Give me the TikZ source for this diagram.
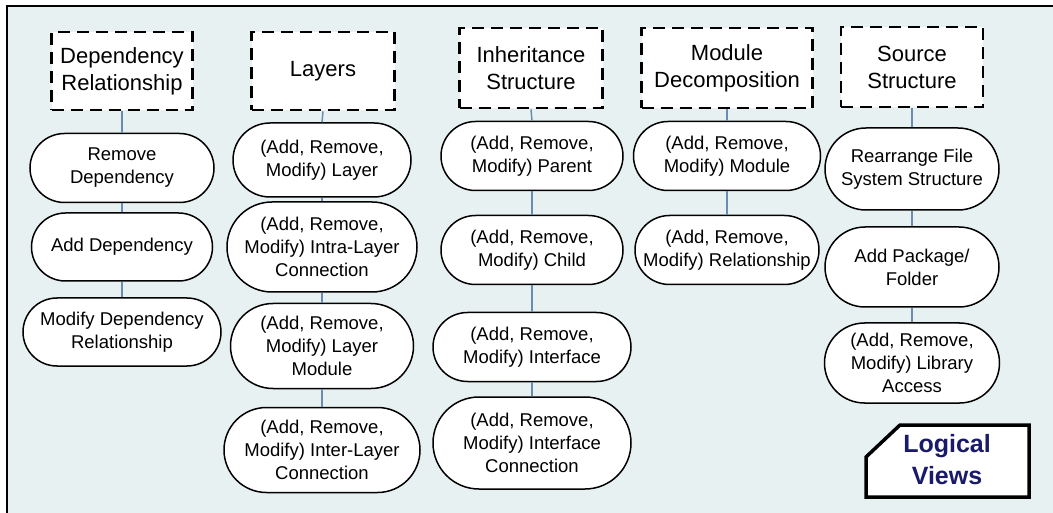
\documentclass[tikz,border=0pt]{standalone}
\usepackage{fontspec}
\setmainfont{Liberation Sans}
\usetikzlibrary{shapes.misc}
\definecolor{bgc}{HTML}{E8F1F1}
\definecolor{linkc}{HTML}{6A8CAE}
\definecolor{navy}{HTML}{1A1A6A}
\begin{document}
\begin{tikzpicture}[x=1pt,y=-1pt,
  hdr/.style={draw=black, fill=white, line width=2.6pt, dash pattern=on 12pt off 7pt,
    align=center, inner sep=0pt, font=\fontsize{22}{27}\selectfont},
  op/.style 2 args={rounded rectangle, draw=black, fill=white, line width=1.5pt, align=center, inner sep=0pt,
    minimum width=#1, minimum height=#2,
    font=\fontsize{18.5}{23}\selectfont},
  link/.style={draw=linkc, line width=1.5pt}]
\useasboundingbox (0,0) rectangle (1053,513);
\fill[white] (0,0) rectangle (1053,513);
\fill[bgc] (7,6) rectangle (1053,513);
\draw[line width=2pt] (7,513) -- (7,6) -- (1053,6);

% column 1
\node[hdr, minimum width=141pt, minimum height=78pt] (h1) at (122,71) {Dependency\\Relationship};
\node[op={184pt}{69pt}] (a1) at (122,168) {Remove\\Dependency};
\node[op={181pt}{68pt}] (a2) at (122,247) {Add Dependency};
\node[op={198pt}{68pt}] (a3) at (122,332) {Modify Dependency\\Relationship};

% column 2
\node[hdr, minimum width=143pt, minimum height=78pt] (h2) at (323,71) {Layers};
\node[op={178pt}{74pt}] (b1) at (322,160) {(Add, Remove,\\Modify) Layer};
\node[op={190pt}{90pt}] (b2) at (322,247) {(Add, Remove,\\Modify) Intra-Layer\\Connection};
\node[op={183pt}{85pt}] (b3) at (322,346) {(Add, Remove,\\Modify) Layer\\Module};
\node[op={196pt}{85pt}] (b4) at (322,450) {(Add, Remove,\\Modify) Inter-Layer\\Connection};

% column 3
\node[hdr, minimum width=143pt, minimum height=80pt] (h3) at (531,68) {Inheritance\\Structure};
\node[op={182pt}{69pt}] (c1) at (532,156) {(Add, Remove,\\Modify) Parent};
\node[op={182pt}{69pt}] (c2) at (532,250) {(Add, Remove,\\Modify) Child};
\node[op={198pt}{69pt}] (c3) at (532,347) {(Add, Remove,\\Modify) Interface};
\node[op={198pt}{92pt}] (c4) at (532,443) {(Add, Remove,\\Modify) Interface\\Connection};

% column 4
\node[hdr, minimum width=171pt, minimum height=80pt] (h4) at (727,68) {Module\\Decomposition};
\node[op={187pt}{69pt}] (d1) at (727,156) {(Add, Remove,\\Modify) Module};
\node[op={184pt}{69pt}] (d2) at (727,250) {(Add, Remove,\\Modify) Relationship};

% column 5
\node[hdr, minimum width=142pt, minimum height=80pt] (h5) at (912,67) {Source\\Structure};
\node[op={174pt}{82pt}] (e1) at (912,169) {Rearrange File\\System Structure};
\node[op={174pt}{80pt}] (e2) at (912,267) {Add Package/\\Folder};
\node[op={175pt}{80pt}] (e3) at (912,363) {(Add, Remove,\\Modify) Library\\Access};

% connectors
\draw[link] (h1.south) -- (a1.north);
\draw[link] (a1.south) -- (a2.north);
\draw[link] (a2.south) -- (a3.north);
\draw[link] (h2.south) -- (b1.north);
\draw[link] (b1.south) -- (b2.north);
\draw[link] (b2.south) -- (b3.north);
\draw[link] (b3.south) -- (b4.north);
\draw[link] (h3.south) -- (c1.north);
\draw[link] (c1.south) -- (c2.north);
\draw[link] (c2.south) -- (c3.north);
\draw[link] (c3.south) -- (c4.north);
\draw[link] (h4.south) -- (d1.north);
\draw[link] (d1.south) -- (d2.north);
\draw[link] (h5.south) -- (e1.north);
\draw[link] (e1.south) -- (e2.north);
\draw[link] (e2.south) -- (e3.north);

% logical views tag
\draw[line width=3.5pt, fill=white, line join=miter] (900,425) -- (1029,425) -- (1029,497) -- (866,497) -- (866,457) -- cycle;
\node[font=\fontsize{25}{32}\selectfont\bfseries, text=navy, align=center, inner sep=0pt] (lv) at (947,460) {Logical\\Views};
\end{tikzpicture}
\end{document}
